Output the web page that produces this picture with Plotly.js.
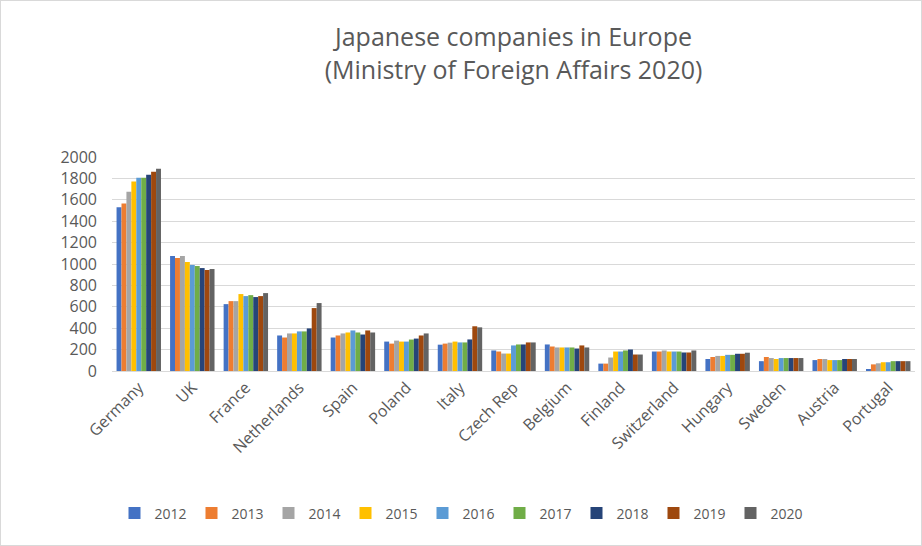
<!DOCTYPE html>
<html>
<head>
<meta charset="utf-8">
<script src="https://cdn.plot.ly/plotly-3.0.1.min.js"></script>
<style>
  html, body { margin: 0; padding: 0; background: #fff; }
  #chart { width: 922px; height: 546px; box-sizing: border-box; border: 1px solid #d9d9d9; }
</style>
</head>
<body>
<div id="chart"></div>
<script>
// countries on the x axis
let countries = ["Germany", "UK", "France", "Netherlands", "Spain", "Poland", "Italy",
  "Czech Rep", "Belgium", "Finland", "Switzerland", "Hungary", "Sweden", "Austria", "Portugal"];

let years = ["2012", "2013", "2014", "2015", "2016", "2017", "2018", "2019", "2020"];

// number of companies (one array per year)
let y2012 = [1530, 1075, 625, 332, 313, 275, 246, 192, 248, 69, 182, 112, 92, 102, 13];
let y2013 = [1565, 1056, 653, 313, 332, 256, 256, 182, 229, 69, 182, 131, 131, 112, 62];
let y2014 = [1675, 1075, 653, 351, 351, 284, 265, 163, 220, 126, 192, 141, 121, 112, 72];
let y2015 = [1770, 1019, 719, 351, 360, 275, 275, 163, 220, 182, 182, 141, 112, 102, 82];
let y2016 = [1806, 991, 700, 370, 379, 275, 267, 239, 220, 182, 182, 151, 121, 102, 82];
let y2017 = [1806, 981, 709, 370, 360, 294, 267, 248, 220, 192, 182, 151, 121, 102, 92];
let y2018 = [1834, 962, 691, 398, 341, 303, 295, 248, 210, 201, 173, 161, 121, 112, 92];
let y2019 = [1862, 944, 700, 588, 379, 332, 418, 267, 239, 154, 173, 161, 121, 112, 92];
let y2020 = [1890, 953, 728, 635, 360, 351, 408, 267, 220, 154, 192, 171, 121, 112, 92];

let series = [y2012, y2013, y2014, y2015, y2016, y2017, y2018, y2019, y2020];
let colors = ["#4472C4", "#ED7D31", "#A5A5A5", "#FFC000", "#5B9BD5",
  "#70AD47", "#264478", "#9E480E", "#636363"];

let textColor = "#595959";
let font = "Open Sans, Liberation Sans, sans-serif";

var data = [];
for (let i = 0; i < years.length; i++) {
  data.push({
    x: countries,
    y: series[i],
    name: years[i],
    type: "bar",
    marker: { color: colors[i] }
  });
}

var layout = {
  width: 920,
  height: 544,
  paper_bgcolor: "#ffffff",
  plot_bgcolor: "#ffffff",
  margin: { l: 111, r: 6, t: 156, b: 174 },
  font: { family: font, color: textColor, size: 15 },
  title: {
    text: "Japanese companies in Europe<br>(Ministry of Foreign Affairs 2020)",
    font: { family: font, size: 25, color: textColor },
    x: 0.5,
    xref: "paper",
    y: 0.917,
    yanchor: "top"
  },
  barmode: "group",
  bargap: 0.17,
  bargroupgap: 0,
  xaxis: {
    automargin: false,
    tickangle: -45,
    showgrid: false,
    showline: true,
    linecolor: "#d9d9d9",
    linewidth: 1,
    ticks: "",
    tickfont: { size: 16, color: textColor }
  },
  yaxis: {
    automargin: false,
    range: [0, 2000],
    dtick: 200,
    gridcolor: "#d9d9d9",
    gridwidth: 1,
    zeroline: false,
    showline: false,
    ticks: "",
    ticklabelstandoff: 14,
    tickfont: { size: 16, color: textColor }
  },
  legend: {
    orientation: "h",
    xref: "container",
    yref: "container",
    x: 0.5,
    xanchor: "center",
    y: 0.058,
    yanchor: "middle",
    font: { size: 14, color: textColor },
    itemwidth: 30,
    entrywidth: 32,
    entrywidthmode: "pixels",
    traceorder: "normal"
  },
  showlegend: true
};

Plotly.newPlot("chart", data, layout, { displayModeBar: false });
</script>
</body>
</html>
